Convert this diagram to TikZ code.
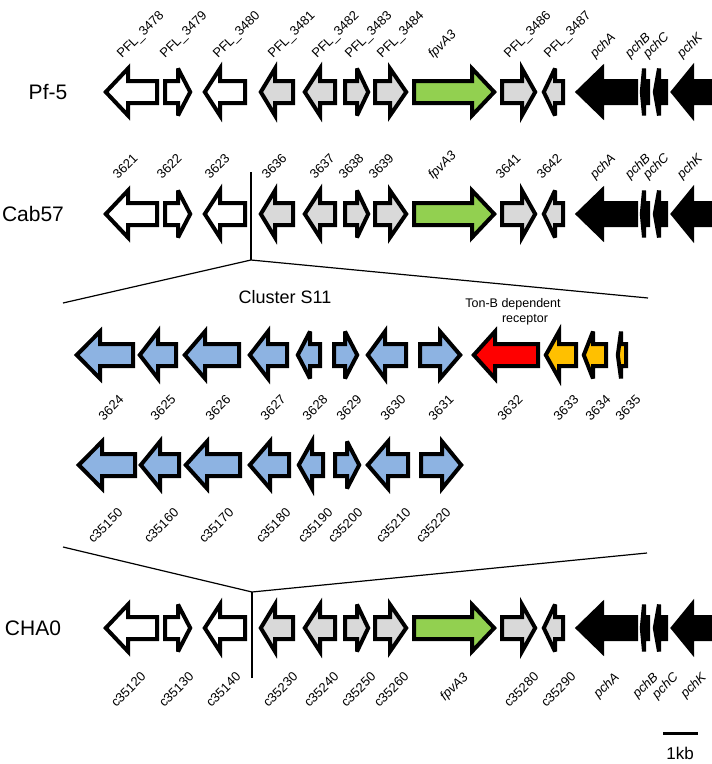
\documentclass[tikz,border=0pt]{standalone}
\usepackage{fontspec}
\setmainfont{Liberation Sans}
\definecolor{gfill}{HTML}{D9D9D9}
\definecolor{grnfill}{HTML}{92D050}
\definecolor{blufill}{HTML}{8DB3E2}
\definecolor{orgfill}{HTML}{FFC000}
\definecolor{redfill}{HTML}{FF0000}
\tikzset{
  genebox/.style={draw=black, line width=4pt, line join=miter, miter limit=4},
  wg/.style={genebox, fill=white},
  gg/.style={genebox, fill=gfill},
  grg/.style={genebox, fill=grnfill},
  bg/.style={genebox, fill=black},
  blg/.style={genebox, fill=blufill},
  rg/.style={genebox, fill=redfill},
  og/.style={genebox, fill=orgfill},
  glab/.style={font=\fontsize{13}{15}\selectfont, inner sep=0pt, rotate=45},
  toplab/.style={glab, anchor=base west},
  botlab/.style={glab, anchor=north east},
  rowlab/.style={font=\fontsize{21}{24}\selectfont, inner sep=0pt},
  thinline/.style={line width=1.2pt, black},
}
% left-pointing gene: style, tip, head base, right end, y
\newcommand\geneL[5]{\draw[#1] ({#2+2.8},#5) -- (#3,{#5-23.5}) -- (#3,{#5-11}) -- ({#4-2},{#5-11}) -- ({#4-2},{#5+11}) -- (#3,{#5+11}) -- (#3,{#5+23.5}) -- cycle;}
% right-pointing gene: style, left end, head base, tip, y
\newcommand\geneR[5]{\draw[#1] ({#2+2},{#5-11}) -- (#3,{#5-11}) -- (#3,{#5-23.5}) -- ({#4-2.8},#5) -- (#3,{#5+23.5}) -- (#3,{#5+11}) -- ({#2+2},{#5+11}) -- cycle;}
\newcommand\stdrow[1]{%
  \geneL{wg}{103}{128}{159}{#1}
  \geneR{wg}{163}{178}{193}{#1}
  \geneL{wg}{202}{220}{247}{#1}
  \geneL{gg}{258}{275}{295}{#1}
  \geneL{gg}{302}{320}{337}{#1}
  \geneR{gg}{343}{357}{371}{#1}
  \geneR{gg}{373}{390}{409}{#1}
  \geneR{grg}{412}{472}{497}{#1}
  \geneR{gg}{500}{522}{538}{#1}
  \geneL{gg}{541}{555}{565}{#1}
  \geneL{bg}{575}{602}{638}{#1}
  \geneL{bg}{639}{644}{650}{#1}
  \geneL{bg}{652}{659}{668}{#1}
  \geneL{bg}{670}{692}{718}{#1}
}
\begin{document}
\begin{tikzpicture}[x=1pt,y=-1pt]
\useasboundingbox (0,0) rectangle (712,764);
% rows of genes
\stdrow{92}
\stdrow{214}
\stdrow{628}
% cluster S11 (Cab57)
\geneL{blg}{74}{100}{135}{355}
\geneL{blg}{137}{158}{178}{355}
\geneL{blg}{182}{205}{241}{355}
\geneL{blg}{247}{268}{289}{355}
\geneL{blg}{295}{310}{322}{355}
\geneR{blg}{332}{345}{360}{355}
\geneL{blg}{365}{385}{408}{355}
\geneR{blg}{418}{440}{463}{355}
\geneL{rg}{471}{495}{540}{355}
\geneL{og}{543}{559}{578}{355}
\geneL{og}{581}{593}{608}{355}
\geneL{og}{615}{621}{628}{355}
% CHA0 cluster
\geneL{blg}{76}{102}{137}{465}
\geneL{blg}{138}{160}{181}{465}
\geneL{blg}{183}{207}{242}{465}
\geneL{blg}{247}{270}{291}{465}
\geneL{blg}{296}{312}{325}{465}
\geneR{blg}{333}{347}{362}{465}
\geneL{blg}{365}{388}{410}{465}
\geneR{blg}{419}{442}{464}{465}
% expansion lines
\coordinate (vt1) at (251,172);
\coordinate (ap1) at (251,260);
\coordinate (lf1) at (63,303);
\coordinate (rt1) at (648,298);
\draw[thinline] (vt1) -- (ap1);
\draw[thinline] (lf1) -- (ap1) -- (rt1);
\coordinate (vb2) at (252,678);
\coordinate (ap2) at (252,592);
\coordinate (lf2) at (63,547);
\coordinate (rt2) at (647,553);
\draw[thinline] (vb2) -- (ap2);
\draw[thinline] (lf2) -- (ap2) -- (rt2);
% row labels
\node[rowlab] (pf5) at (48,92) {Pf-5};
\node[rowlab] (cab57) at (33,214) {Cab57};
\node[rowlab] (cha0) at (33,628) {CHA0};
\node[font=\fontsize{18}{20}\selectfont, inner sep=0pt] (s11) at (285,297) {Cluster S11};
\node[font=\fontsize{12.5}{14}\selectfont, inner sep=0pt] (tonb1) at (513,304) {Ton-B dependent};
\node[font=\fontsize{12.5}{14}\selectfont, inner sep=0pt] (tonb2) at (525,320) {receptor};
% Pf-5 labels
\node[toplab] (p1) at (122,59) {PFL\_3478};
\node[toplab] (p2) at (165,59) {PFL\_3479};
\node[toplab] (p3) at (218,59) {PFL\_3480};
\node[toplab] (p4) at (273,59) {PFL\_3481};
\node[toplab] (p5) at (317,59) {PFL\_3482};
\node[toplab] (p6) at (350,59) {PFL\_3483};
\node[toplab] (p7) at (382,59) {PFL\_3484};
\node[toplab] (p8) at (433,59) {\itshape fpvA3};
\node[toplab] (p9) at (509,59) {PFL\_3486};
\node[toplab] (p10) at (549,59) {PFL\_3487};
\node[toplab] (p11) at (595,59) {\itshape pchA};
\node[toplab] (p12) at (630,59) {\itshape pchB};
\node[toplab] (p13) at (648,59) {\itshape pchC};
\node[toplab] (p14) at (682,59) {\itshape pchK};
% Cab57 labels
\node[toplab] (c1) at (118,180) {3621};
\node[toplab] (c2) at (162,180) {3622};
\node[toplab] (c3) at (210,180) {3623};
\node[toplab] (c4) at (267,180) {3636};
\node[toplab] (c5) at (315,180) {3637};
\node[toplab] (c6) at (344,180) {3638};
\node[toplab] (c7) at (374,180) {3639};
\node[toplab] (c8) at (433,180) {\itshape fpvA3};
\node[toplab] (c9) at (501,180) {3641};
\node[toplab] (c10) at (542,180) {3642};
\node[toplab] (c11) at (595,180) {\itshape pchA};
\node[toplab] (c12) at (630,180) {\itshape pchB};
\node[toplab] (c13) at (648,180) {\itshape pchC};
\node[toplab] (c14) at (682,180) {\itshape pchK};
% S11 labels
\node[botlab] (s1) at (118,394) {3624};
\node[botlab] (s2) at (170,394) {3625};
\node[botlab] (s3) at (225,394) {3626};
\node[botlab] (s4) at (280,394) {3627};
\node[botlab] (s5) at (322,394) {3628};
\node[botlab] (s6) at (356,394) {3629};
\node[botlab] (s7) at (400,394) {3630};
\node[botlab] (s8) at (448,394) {3631};
\node[botlab] (s9) at (517,394) {3632};
\node[botlab] (s10) at (573,394) {3633};
\node[botlab] (s11l) at (605,394) {3634};
\node[botlab] (s12) at (635,394) {3635};
% c35 labels
\node[botlab] (k1) at (117,507) {c35150};
\node[botlab] (k2) at (173,507) {c35160};
\node[botlab] (k3) at (228,507) {c35170};
\node[botlab] (k4) at (285,507) {c35180};
\node[botlab] (k5) at (327,507) {c35190};
\node[botlab] (k6) at (357,507) {c35200};
\node[botlab] (k7) at (405,507) {c35210};
\node[botlab] (k8) at (445,507) {c35220};
% CHA0 labels
\node[botlab] (h1) at (140,671) {c35120};
\node[botlab] (h2) at (188,671) {c35130};
\node[botlab] (h3) at (235,671) {c35140};
\node[botlab] (h4) at (292,671) {c35230};
\node[botlab] (h5) at (333,671) {c35240};
\node[botlab] (h6) at (370,671) {c35250};
\node[botlab] (h7) at (403,671) {c35260};
\node[botlab] (h8) at (462,671) {\itshape fpvA3};
\node[botlab] (h9) at (533,671) {c35280};
\node[botlab] (h10) at (570,671) {c35290};
\node[botlab] (h11) at (613,671) {\itshape pchA};
\node[botlab] (h12) at (652,671) {\itshape pchB};
\node[botlab] (h13) at (672,671) {\itshape pchC};
\node[botlab] (h14) at (700,671) {\itshape pchK};
% scale bar
\coordinate (sb1) at (663,733);
\coordinate (sb2) at (698,733);
\draw[line width=3pt] (sb1) -- (sb2);
\node[font=\fontsize{17}{20}\selectfont, inner sep=0pt] (kb) at (680,753) {1kb};
\end{tikzpicture}
\end{document}
